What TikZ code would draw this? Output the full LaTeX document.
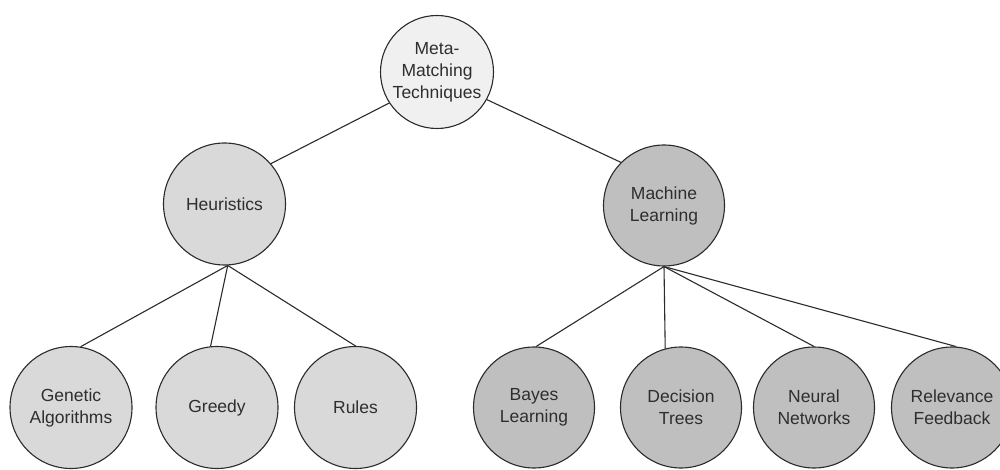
\documentclass[tikz,border=0pt]{standalone}
\usepackage{fontspec}
\setmainfont{Liberation Sans}
\definecolor{fillroot}{HTML}{F0F0F0}
\definecolor{fillh}{HTML}{D9D9D9}
\definecolor{fillm}{HTML}{BFBFBF}
\definecolor{edge}{HTML}{2B2B2B}
\definecolor{txt}{HTML}{2E2E2E}
\begin{document}
\begin{tikzpicture}[x=1pt,y=-1pt,
  every node/.style={font=\fontsize{17.5}{22}\selectfont, text=txt, align=center},
  circ/.style={circle, draw=edge, line width=1.1pt, inner sep=0pt, minimum size=#1},
  rootc/.style={circ=113pt, fill=fillroot},
  heurc/.style={circ=122pt, fill=fillh},
  mlc/.style={circ=121pt, fill=fillm},
  conn/.style={draw=edge, line width=1.1pt}]
\useasboundingbox (0,0) rectangle (1000,470);
\node[rootc] (root) at (437,72) {Meta-\\Matching\\Techniques};
\node[heurc] (heur) at (224.5,204) {Heuristics};
\node[mlc] (ml) at (664,205.5) {Machine\\Learning};
\node[heurc] (gen) at (71,407.5) {Genetic\\Algorithms};
\node[heurc] (greedy) at (217,407.5) {Greedy};
\node[heurc] (rules) at (355.5,407.5) {Rules};
\node[mlc] (bayes) at (534,407.5) {Bayes\\Learning};
\node[mlc] (dec) at (681,407.5) {Decision\\Trees};
\node[mlc] (neural) at (814,407.5) {Neural\\Networks};
\node[mlc] (rel) at (952,407.5) {Relevance\\Feedback};
\draw[conn] (root.213) -- (heur.41);
\draw[conn] (root.-29) -- (ml.135);
\draw[conn] (heur.273) -- (gen.81);
\draw[conn] (heur.273) -- (greedy.96);
\draw[conn] (heur.273) -- (rules.north);
\draw[conn] (ml.south) -- (bayes.88);
\draw[conn] (ml.south) -- (dec.105);
\draw[conn] (ml.south) -- (neural.north);
\draw[conn] (ml.south) -- (rel.86);
\end{tikzpicture}
\end{document}
